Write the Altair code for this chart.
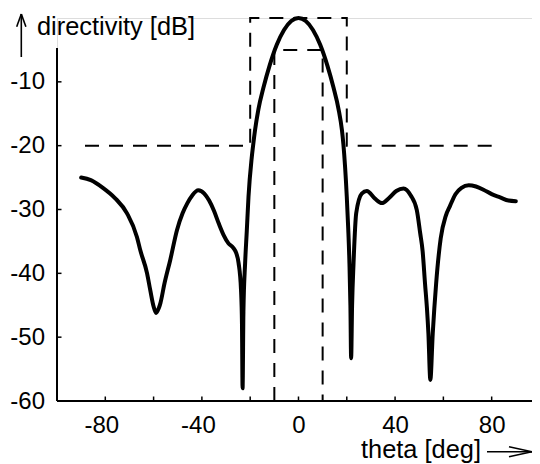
import altair as alt
import pandas as pd

# ---- data ----
theta = [-90, -86, -81, -76, -71, -66.9, -65.5, -62.7, -61.4, -60, -59, -57.9, -57.2, -55.5,
         -53.1, -50.3, -48, -46, -44, -41.5, -39, -37, -35, -33, -31, -29, -27, -25.8, -24.8,
         -23.8, -23.4, -23.15, -22.8, -22.1, -21.4, -20.7, -19.4, -18.8, -18, -16.6, -14.5, -12,
         -9, -6, -3, 0, 3, 6, 9, 12, 14.5, 16.6, 18, 18.6, 20.0, 20.6, 21.1, 21.5, 21.8, 22.2,
         22.8, 23.9, 26.2, 28.3, 31.7, 34.5, 37.5, 40.5, 43.5, 46.5, 49.0, 50.4, 51.4, 52.4,
         53.2, 53.8, 54.6, 55.6, 57.0, 58.9, 61, 62.8, 65, 67.5, 70.5, 73.5, 76.6, 80, 83.5,
         87, 90]
db = [-25.0, -25.4, -26.6, -28.2, -30.6, -34.3, -36.4, -40.0, -42.6, -45.2, -46.2, -45.5, -44.7,
      -41.6, -37.9, -33.2, -30.6, -29.0, -27.8, -27.0, -27.5, -28.6, -30.2, -32.2, -34.0, -35.3,
      -36.0, -36.8, -38.4, -42.6, -48.0, -58.0, -46.0, -38.4, -33.3, -28.0, -22.0, -20.0, -17.6,
      -14.3, -10.9, -7.5, -4.2, -1.87, -0.47, 0.0, -0.47, -1.87, -4.2, -7.5, -10.9, -14.3,
      -17.6, -19.8, -28.0, -33.0, -38.4, -45.0, -53.3, -45.0, -38.4, -30.6, -27.5, -27.1,
      -28.3, -29.0, -28.2, -27.1, -26.7, -27.8, -30.1, -33.7, -36.5, -41.6, -45.5, -49.4,
      -56.7, -49.4, -41.6, -34.5, -31.0, -29.4, -27.6, -26.6, -26.2, -26.4, -26.9, -27.6,
      -28.1, -28.6, -28.7]

# mask (dashed template)
upper_theta = [80, 20, 20, -20, -20, -90]
upper_db = [-20, -20, 0, 0, -20, -20]
lower_theta = [-10, -10, 10, 10]
lower_db = [-60, -5, -5, -60]

x_ticks = [-80, -60, -40, -20, 0, 20, 40, 60, 80]
x_labels = [-80, -40, 0, 40, 80]
y_ticks = [-60, -50, -40, -30, -20, -10]

x_range = [-100, 96.7]
y_range = [-60, 0]
y_axis_top = -4.7

x_title = "theta [deg]"
y_title = "directivity [dB]"

# ---- layout ----
W, H = 475, 383
FONT = "Liberation Sans"
LABEL_EXPR = "datum.value < 0 ? '-' + (-datum.value) : '' + datum.value"

xscale = alt.Scale(domain=x_range, nice=False, zero=False)
yscale = alt.Scale(domain=y_range, nice=False, zero=False)

xaxis = alt.Axis(values=x_labels, domain=False, ticks=False, tickSize=0, grid=False, title=None,
                 labelFontSize=24, labelFont=FONT, labelColor="black", labelPadding=12,
                 labelExpr=LABEL_EXPR,
                 labelOffset=alt.condition("datum.value < 0", alt.value(-4), alt.value(0)))
yaxis = alt.Axis(values=y_ticks, domain=False, ticks=False, tickSize=0, grid=False, title=None,
                 labelFontSize=24, labelFont=FONT, labelColor="black", labelPadding=12.5,
                 labelExpr=LABEL_EXPR)

X = lambda f: alt.X(f, scale=xscale, axis=xaxis)
Y = lambda f: alt.Y(f, scale=yscale, axis=yaxis)

df = pd.DataFrame({"theta": theta, "db": db})
upper = pd.DataFrame({"theta": upper_theta, "db": upper_db, "i": range(len(upper_theta))})
lower = pd.DataFrame({"theta": lower_theta, "db": lower_db, "i": range(len(lower_theta))})

curve = alt.Chart(df).mark_line(color="black", strokeWidth=4, interpolate="monotone",
                                strokeCap="round", strokeJoin="round").encode(
    x=X("theta:Q"), y=Y("db:Q"))

def mask(d):
    return alt.Chart(d).mark_line(color="black", strokeWidth=2, strokeDash=[14, 10]).encode(
        x=X("theta:Q"), y=Y("db:Q"), order=alt.Order("i:Q"))

left_line = alt.Chart(pd.DataFrame({"theta": [x_range[0]], "db": [y_range[0]], "db2": [y_axis_top]})).mark_rule(
    color="black", strokeWidth=2).encode(x=X("theta:Q"), y=Y("db:Q"), y2="db2:Q")
bottom_line = alt.Chart(pd.DataFrame({"theta": [x_range[0]], "db": [y_range[0]]})).mark_rule(
    color="black", strokeWidth=2).encode(x=X("theta:Q"), x2=alt.value(W), y=Y("db:Q"))

xt = alt.Chart(pd.DataFrame({"theta": x_ticks})).mark_rule(color="black", strokeWidth=1.5).encode(
    x=X("theta:Q"), y=alt.value(H), y2=alt.value(H - 4.5))
yt = alt.Chart(pd.DataFrame({"db": y_ticks})).mark_rule(color="black", strokeWidth=1.5).encode(
    y=Y("db:Q"), x=alt.value(0), x2=alt.value(4.5))

one = pd.DataFrame({"a": [0]})

def seg(x1, y1, x2, y2, w=1.6):
    return alt.Chart(one).mark_rule(color="black", strokeWidth=w).encode(
        x=alt.value(x1), y=alt.value(y1), x2=alt.value(x2), y2=alt.value(y2))

def label(txt, x, y):
    return alt.Chart(one).mark_text(text=txt, font=FONT, fontSize=25.4, color="black",
                                    align="left", baseline="alphabetic").encode(
        x=alt.value(x), y=alt.value(y))

decor = [
    label(y_title, -20, 17),
    label(x_title, 304, 440),
    # y arrow
    seg(-35.7, 39, -35.7, -4),
    seg(-40.3, 8.7, -35.7, -4),
    seg(-31.1, 8.7, -35.7, -4),
    # x arrow
    seg(430, 433.7, 475, 433.7),
    seg(452, 428.7, 475, 433.7),
    seg(452, 438.7, 475, 433.7),
]

chart = alt.layer(curve, mask(upper), mask(lower), left_line, bottom_line, xt, yt, *decor).properties(
    width=W, height=H,
    autosize=alt.AutoSizeParams(type="none"),
    padding={"left": 49, "top": 10, "right": 0, "bottom": 63},
).configure_view(stroke=None).configure(background="white")

chart.save("out.html", embed_options={"renderer": "svg", "actions": False})
